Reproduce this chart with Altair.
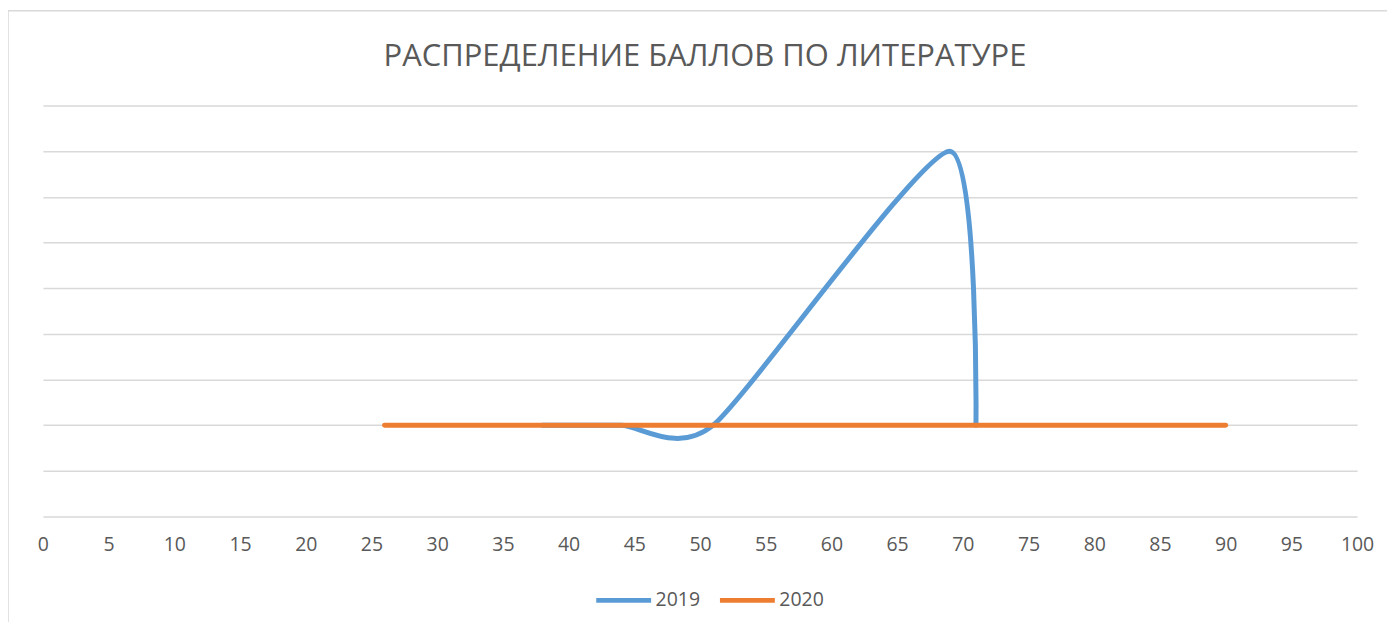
import altair as alt
import pandas as pd

x_2019 = [38, 44, 51, 69, 71]
y_2019 = [2, 2, 2, 8, 2]
x_2020 = [26, 90]
y_2020 = [2, 2]
series = ["2019", "2020"]
x_ticks = list(range(0, 101, 5))
title_text = "РАСПРЕДЕЛЕНИЕ БАЛЛОВ ПО ЛИТЕРАТУРЕ"

rows = []
for xv, yv in zip(x_2019, y_2019):
    rows.append({"x": xv, "y": yv, "series": "2019"})
for xv, yv in zip(x_2020, y_2020):
    rows.append({"x": xv, "y": yv, "series": "2020"})
df = pd.DataFrame(rows)

W, H = 1317, 412

lines = alt.Chart(df).mark_line(
    interpolate="cardinal", tension=0.35, strokeWidth=5, strokeCap="round"
).encode(
    x=alt.X("x:Q", scale=alt.Scale(domain=[0, 100], nice=False, zero=False),
            axis=alt.Axis(values=x_ticks, title=None, grid=False, domain=False, ticks=False,
                          labelFont="Open Sans", labelFontSize=19.5, labelColor="#595959",
                          labelPadding=19, labelFlush=False)),
    y=alt.Y("y:Q", scale=alt.Scale(domain=[0, 9], nice=False),
            axis=alt.Axis(values=list(range(0, 10)), title=None, labels=False, domain=False,
                          ticks=False, grid=True, gridColor="#D9D9D9", gridWidth=1.5)),
    color=alt.Color("series:N", scale=alt.Scale(domain=series, range=["#5B9BD5", "#ED7D31"]),
                    legend=alt.Legend(title=None, orient="none", direction="horizontal",
                                      legendX=552, legendY=466, symbolType="stroke",
                                      symbolSize=3025, symbolStrokeWidth=5,
                                      labelFont="Open Sans", labelFontSize=19.5,
                                      labelColor="#595959", columnPadding=9, labelOffset=2,
                                      padding=0)),
)

border = alt.Chart(pd.DataFrame({"a": [0]})).mark_rect(
    fill=None, stroke="#D9D9D9", strokeWidth=1.5, clip=False
).encode(
    x=alt.value(-35), x2=alt.value(W + 60), y=alt.value(-95), y2=alt.value(H + 130)
)

title = alt.Chart(pd.DataFrame({"t": [title_text]})).mark_text(
    font="Open Sans", fontSize=31, color="#595959", align="center", baseline="alphabetic"
).encode(
    text="t:N", x=alt.value(W / 2 + 5), y=alt.value(-40)
)

chart = alt.layer(border, lines, title).properties(
    width=W, height=H,
    autosize=alt.AutoSizeParams(type="none"),
    padding={"left": 35, "top": 97, "right": 30, "bottom": 105},
).configure(background="white").configure_view(strokeWidth=0, stroke=None)

chart.save("out.html", embed_options={"renderer": "svg", "actions": False})
